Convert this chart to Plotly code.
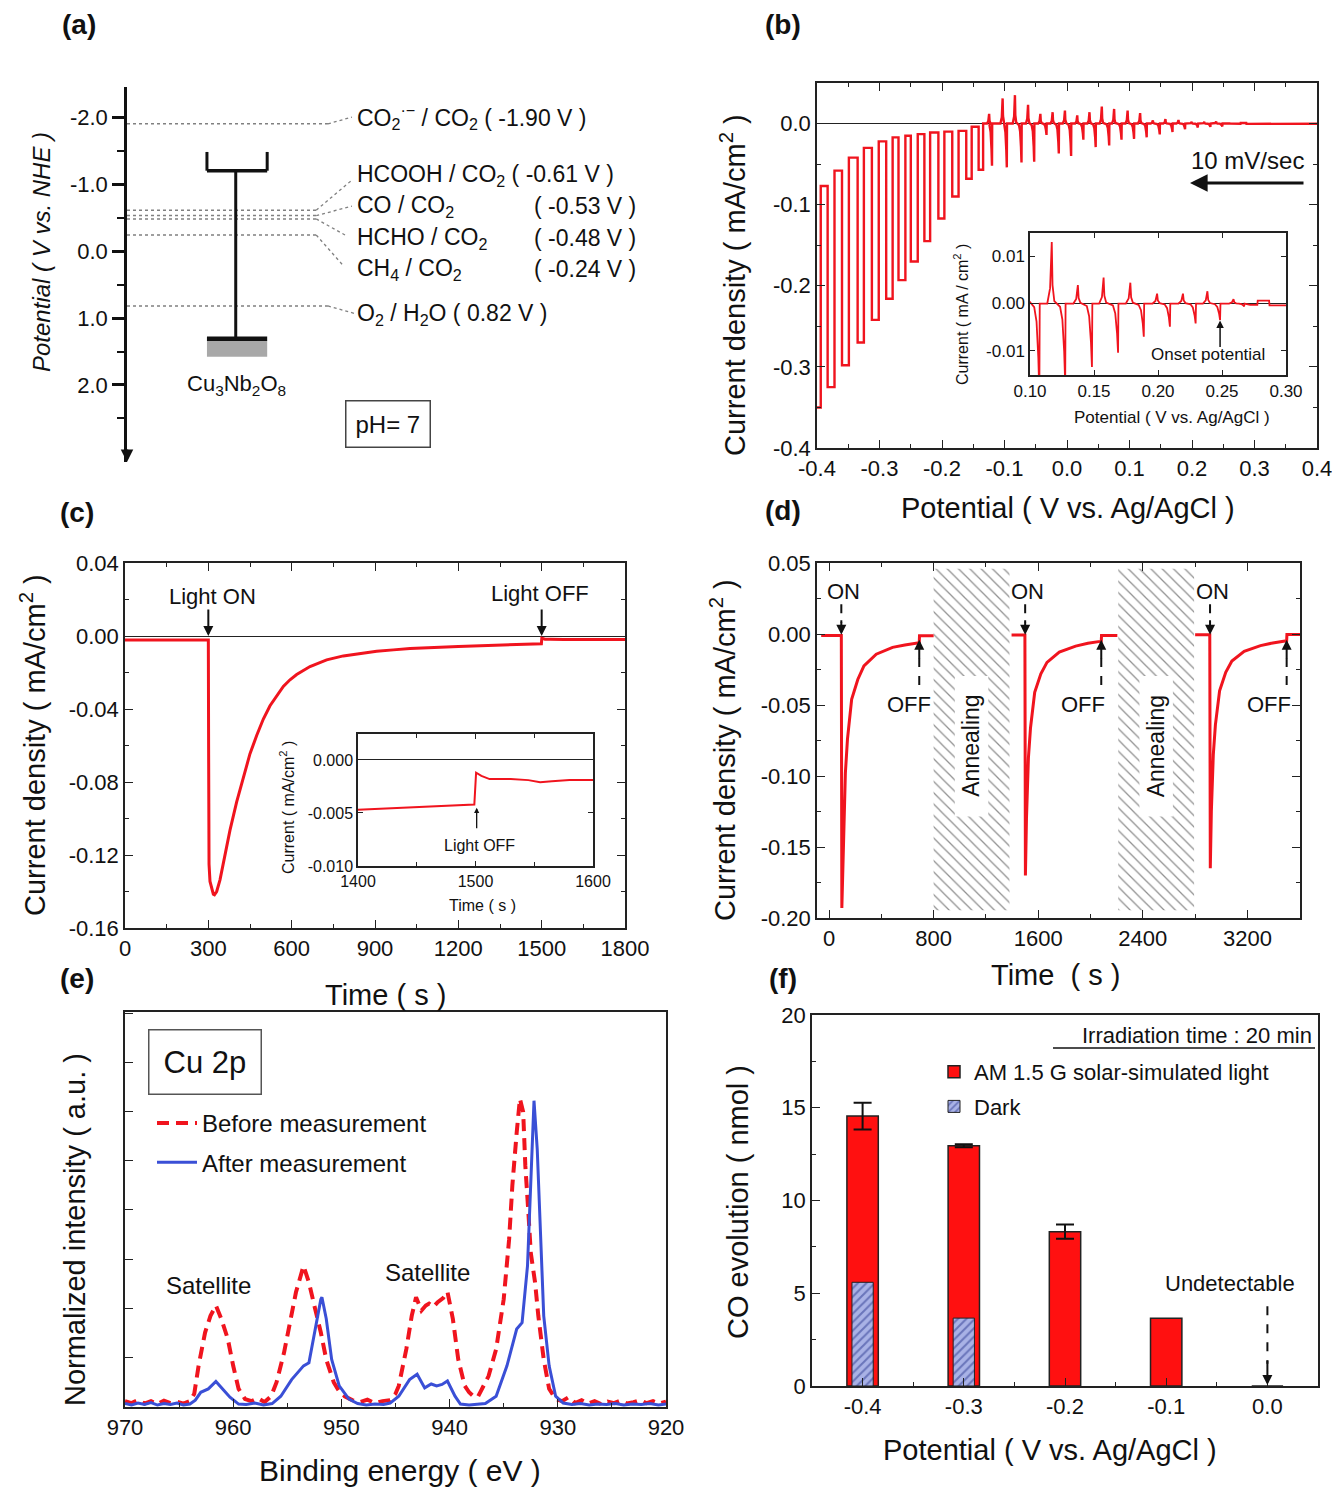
import plotly.graph_objects as go

# reference canvas size; the page body adds an 8 px margin, so the figure is drawn slightly smaller
W, H = 1340, 1495
OFF = 8
WF, HF = W - 2 * OFF, H - 2 * OFF
FONT = "Liberation Sans, Arial, sans-serif"
RED = "#f0141e"
BLUE = "#3a4fd6"
INK = "#111111"

# ---------------- (a) band diagram data ----------------
redox_names = ["CO<sub>2</sub><sup>·−</sup> / CO<sub>2</sub>", "HCOOH / CO<sub>2</sub>", "CO / CO<sub>2</sub>",
               "HCHO / CO<sub>2</sub>", "CH<sub>4</sub> / CO<sub>2</sub>", "O<sub>2</sub> / H<sub>2</sub>O"]
redox_pot = [-1.90, -0.61, -0.53, -0.48, -0.24, 0.82]
cb_edge = -1.20   # conduction band (V vs NHE)
vb_edge = 1.31    # valence band (V vs NHE)
a_ticks = [-2.0, -1.0, 0.0, 1.0, 2.0]

# ---------------- tick values ----------------
b_xtick = [-0.4, -0.3, -0.2, -0.1, 0.0, 0.1, 0.2, 0.3, 0.4]
b_ytick = [0.0, -0.1, -0.2, -0.3, -0.4]
bi_xtick = [0.10, 0.15, 0.20, 0.25, 0.30]
bi_ytick = [0.01, 0.00, -0.01]
c_xtick = [0, 300, 600, 900, 1200, 1500, 1800]
c_ytick = [0.04, 0.00, -0.04, -0.08, -0.12, -0.16]
ci_xtick = [1400, 1500, 1600]
ci_ytick = [0.000, -0.005, -0.010]
d_xtick = [0, 800, 1600, 2400, 3200]
d_ytick = [0.05, 0.00, -0.05, -0.10, -0.15, -0.20]
e_xtick = [970, 960, 950, 940, 930, 920]
f_ytick = [0, 5, 10, 15, 20]

# ---------------- (b) chopped LSV data ----------------
b_pulse_left = [-0.400, -0.3830, -0.3600, -0.3350, -0.3122, -0.2893, -0.2696, -0.2499, -0.2282, -0.2058,
                -0.1836, -0.1612, -0.1414]
b_pulse_right = [-0.394, -0.3720, -0.3490, -0.3250, -0.3012, -0.2790, -0.2586, -0.2388, -0.2190, -0.1962,
                 -0.1735, -0.1525, -0.1342]
b_light = [-0.350, -0.325, -0.298, -0.270, -0.242, -0.216, -0.193, -0.170, -0.145, -0.117, -0.090, -0.068, -0.057]
b_dark = [-0.077, -0.058, -0.042, -0.030, -0.022, -0.017, -0.015, -0.013, -0.011, -0.010, -0.009, -0.004, 0.000]
b_spike_x = [-0.1246, -0.1200, -0.1030, -0.0963, -0.0833, -0.0728, -0.0623, -0.0525, -0.0426, -0.0328,
             -0.0230, -0.0131, -0.0033, 0.0066, 0.0164, 0.0262, 0.0360, 0.0459, 0.0557, 0.0675,
             0.0754, 0.0872, 0.0970, 0.1073, 0.1170, 0.1275, 0.1374, 0.1484, 0.1575, 0.1688,
             0.1784, 0.1889, 0.1993, 0.2093, 0.2195, 0.2294, 0.2386, 0.2485, 0.2590, 0.2673]
b_spike_h = [0.012, -0.052, 0.031, -0.054, 0.035, -0.048, 0.023, -0.047, 0.012, -0.014,
             0.014, -0.037, 0.016, -0.040, 0.010, -0.020, 0.014, -0.029, 0.021, -0.027,
             0.018, -0.020, 0.016, -0.019, 0.013, -0.017, 0.0039, -0.0134, 0.0055, -0.0104,
             0.0044, -0.0070, 0.0021, -0.0049, 0.0021, -0.0042, 0.0026, -0.0035, 0.0009, -0.0006]
b_tail_x = [0.2720, 0.2776, 0.2779, 0.2868, 0.2871, 0.3000, 0.3500, 0.4000]
b_tail_j = [-0.0003, -0.0003, 0.0006, 0.0006, -0.0004, -0.0004, -0.0002, -0.0002]

# ---------------- (c) photocurrent transient ----------------
c_t = [0, 100, 200, 300, 301, 302.5, 306, 312, 318, 322, 330, 342, 354, 366, 378, 402, 426, 450, 474, 498,
       522, 546, 570, 594, 618, 666, 726, 786, 846, 906, 966, 1026, 1200, 1400, 1440, 1470, 1499, 1500.5,
       1505, 1512, 1530, 1545, 1555, 1565, 1580, 1600, 1700, 1800]
c_j = [-0.0022, -0.0022, -0.0022, -0.0022, -0.060, -0.125, -0.1345, -0.139, -0.1415, -0.1418, -0.140,
       -0.1336, -0.1245, -0.1155, -0.1064, -0.0909, -0.0773, -0.0645, -0.0545, -0.0455, -0.0382, -0.0327,
       -0.0276, -0.0240, -0.0211, -0.0167, -0.0131, -0.0109, -0.0095, -0.0084, -0.0076, -0.0069, -0.0057,
       -0.0047, -0.0045, -0.0044, -0.0042, -0.0012, -0.0015, -0.0018, -0.0018, -0.0019, -0.0021, -0.0020,
       -0.0019, -0.0019, -0.0019, -0.0019]

# ---------------- (d) repeated cycles ----------------
d_t = [-60, 94, 98, 110, 125, 141, 173, 220, 267, 361, 486, 580, 674, 690, 692, 800, None,
       1396, 1498, 1502, 1510, 1525, 1541, 1573, 1620, 1667, 1761, 1886, 1980, 2074, 2082, 2084, 2205, None,
       2800, 2912, 2916, 2924, 2939, 2955, 2987, 3034, 3081, 3175, 3300, 3394, 3488, 3500, 3502, 3602]
d_j = [-0.001, -0.001, -0.193, -0.145, -0.098, -0.074, -0.046, -0.032, -0.0224, -0.0142, -0.0094, -0.0078,
       -0.0064, -0.0062, -0.0012, -0.0012, None,
       -0.0007, -0.0007, -0.170, -0.130, -0.087, -0.066, -0.041, -0.028, -0.020, -0.0128, -0.0085, -0.0065,
       -0.0052, -0.0050, -0.0010, -0.0010, None,
       -0.0005, -0.0005, -0.165, -0.125, -0.085, -0.064, -0.040, -0.027, -0.019, -0.0122, -0.0082, -0.0063,
       -0.0050, -0.0047, -0.0003, -0.0003]
d_on = [94, 1500, 2914]
d_on_label = [110, 1515, 2933]
d_off = [690, 2082, 3500]
d_off_label = [612, 1939, 3363]
anneal_start = [800, 2212]
anneal_end = [1380, 2792]

# ---------------- (e) XPS Cu 2p ----------------
bef_ev = [970.0, 969.4, 968.8, 968.2, 967.6, 967.0, 966.4, 965.8, 965.2, 964.6,
          964.0, 963.6, 963.2, 962.6, 962.1, 961.6, 961.1, 960.5, 960.0, 959.5,
          958.9, 958.3, 957.7, 957.1, 956.5, 956.0, 955.3, 954.8, 954.2, 953.5,
          953.0, 952.5, 951.9, 951.4, 950.7, 950.2, 949.7, 949.0, 948.3, 947.6,
          946.9, 946.2, 945.5, 945.0, 944.7, 944.0, 943.5, 943.1, 942.6, 942.2,
          941.9, 941.5, 941.1, 940.6, 940.2, 939.7, 939.2, 938.6, 938.2, 937.8,
          937.4, 937.1, 936.4, 935.7, 935.0, 934.5, 934.2, 933.8, 933.5, 933.2,
          933.0, 932.7, 932.5, 932.1, 931.8, 931.3, 930.8, 930.2, 929.6, 929.0,
          928.4, 927.8, 927.2, 926.6, 926.0, 925.4, 924.8, 924.2, 923.6, 923.0,
          922.4, 921.8, 921.2, 920.6, 920.0]
bef_int = [0.10, 0.06, 0.12, 0.05, 0.10, 0.04, 0.11, 0.06, 0.09, 0.05,
           0.10, 0.25, 0.82, 1.50, 1.84, 2.05, 1.78, 1.37, 0.82, 0.35,
           0.14, 0.10, 0.16, 0.08, 0.20, 0.48, 1.09, 1.64, 2.32, 2.86,
           2.52, 2.05, 1.50, 0.95, 0.48, 0.30, 0.20, 0.12, 0.08, 0.13,
           0.06, 0.10, 0.12, 0.25, 0.41, 1.16, 1.84, 2.22, 1.95, 2.05,
           2.09, 2.02, 2.12, 2.20, 2.33, 1.78, 0.95, 0.41, 0.28, 0.20,
           0.18, 0.31, 0.61, 1.16, 2.18, 3.40, 4.50, 5.58, 6.27, 6.00,
           4.90, 3.88, 3.13, 2.52, 1.84, 0.95, 0.35, 0.14, 0.10, 0.18,
           0.06, 0.12, 0.05, 0.10, 0.04, 0.09, 0.06, 0.11, 0.05, 0.08,
           0.12, 0.06, 0.10, 0.05, 0.09]
aft_ev = [970.0, 969.4, 968.8, 968.2, 967.6, 967.0, 966.4, 965.8, 965.2, 964.6,
          964.0, 963.5, 963.0, 962.3, 961.6, 961.0, 960.3, 959.5, 958.8, 958.0,
          957.2, 956.4, 955.6, 954.6, 953.5, 953.0, 952.5, 951.9, 951.8, 951.4,
          950.9, 950.2, 949.3, 948.5, 947.7, 946.9, 946.1, 945.5, 944.7, 943.7,
          943.0, 942.3, 941.7, 941.2, 940.7, 940.2, 939.5, 939.0, 938.2, 937.4,
          936.7, 935.7, 934.7, 933.8, 933.3, 932.8, 932.4, 932.2, 931.9, 931.6,
          931.3, 930.8, 930.2, 929.5, 928.7, 927.9, 927.1, 926.3, 925.5, 924.7,
          923.9, 923.1, 922.3, 921.5, 920.7, 920.0]
aft_int = [0.05, 0.02, 0.06, 0.03, 0.07, 0.02, 0.05, 0.03, 0.06, 0.02,
           0.04, 0.12, 0.28, 0.35, 0.50, 0.35, 0.18, 0.04, 0.03, 0.06,
           0.02, 0.05, 0.20, 0.54, 0.82, 0.88, 1.50, 2.18, 2.22, 1.78,
           0.95, 0.41, 0.14, 0.05, 0.02, 0.04, 0.03, 0.06, 0.20, 0.54,
           0.65, 0.37, 0.45, 0.41, 0.44, 0.51, 0.20, 0.04, 0.02, 0.03,
           0.05, 0.20, 0.82, 1.57, 1.70, 2.86, 4.90, 6.23, 5.24, 3.54,
           1.84, 0.82, 0.20, 0.06, 0.03, 0.05, 0.02, 0.04, 0.03, 0.05,
           0.02, 0.04, 0.03, 0.05, 0.02, 0.04]

# ---------------- (f) CO evolution ----------------
f_pot = [-0.4, -0.3, -0.2, -0.1, 0.0]
f_pot_labels = ["-0.4", "-0.3", "-0.2", "-0.1", "0.0"]
co_light = [14.55, 12.95, 8.32, 3.65, 0.0]
err_pot = [-0.4, -0.3, -0.2]
co_err_val = [14.55, 12.95, 8.32]
co_err = [0.72, 0.08, 0.38]
dark_pot = [-0.4, -0.3]
co_dark = [5.59, 3.66]


# ---------------- helpers (reference pixel -> paper fraction) ----------------
def PX(x):
    return (x - OFF) / WF


def PY(y):
    return 1 - (y - OFF) / HF


def XD(a, b):
    return [PX(a), PX(b)]


def YD(top, bottom):
    return [PY(bottom), PY(top)]


def T(text, x, y, size=22, xanchor="center", yanchor="middle", angle=0, **kw):
    return dict(text=text, x=PX(x), y=PY(y), xref="paper", yref="paper", showarrow=False,
                font=dict(size=size, family=FONT, color=INK), xanchor=xanchor, yanchor=yanchor,
                textangle=angle, **kw)


def labels(vals, nd):
    return ["0" + ("." + "0" * nd if nd else "") if v == 0 else f"{v:.{nd}f}" for v in vals]


def mids(vals):
    s = sorted(vals)
    return [(a + b) / 2 for a, b in zip(s[:-1], s[1:])]


def axis(dom, rng, anchor, tv=None, nd=None, minor=None, size=22, **kw):
    d = dict(domain=dom, range=rng, anchor=anchor, showline=True, linecolor="#222", linewidth=1.5,
             mirror="ticks", ticks="inside", ticklen=8, tickwidth=1.3, tickcolor="#222", showgrid=False,
             zeroline=False, tickfont=dict(size=size, family=FONT, color=INK), ticklabeloverflow="allow")
    if tv is not None:
        d["tickmode"] = "array"
        d["tickvals"] = tv
        d["ticktext"] = labels(tv, nd) if nd is not None else [str(v) for v in tv]
    if minor is not None:
        d["minor"] = dict(tickmode="array", tickvals=minor, ticks="inside", ticklen=4, tickwidth=1,
                          tickcolor="#222", showgrid=False)
    d.update(kw)
    return d


ZL = dict(zeroline=True, zerolinecolor="#222", zerolinewidth=1.3)


def chop_trace():
    xs, ys = [], []
    for i in range(len(b_pulse_left)):
        if i == 0:
            xs.append(b_pulse_left[i]); ys.append(b_light[i])
        else:
            xs += [b_pulse_left[i], b_pulse_left[i]]; ys += [b_dark[i - 1], b_light[i]]
        xs += [b_pulse_right[i], b_pulse_right[i]]; ys += [b_light[i], b_dark[i]]
    for x, h in zip(b_spike_x, b_spike_h):
        if h < 0:
            xs += [x - 0.004, x - 0.0022, x - 0.0008, x, x + 0.0003]
            ys += [0.04 * h, 0.2 * h, 0.6 * h, h, 0.0]
        else:
            xs += [x - 0.0035, x - 0.0013, x - 0.0004, x, x + 0.0006, x + 0.002]
            ys += [0.0, 0.25 * h, 0.7 * h, h, 0.3 * h, 0.04 * h]
    xs += b_tail_x; ys += b_tail_j
    return xs, ys


fig = go.Figure()

# (b) main + inset
bx, by = chop_trace()
fig.add_trace(go.Scatter(x=bx, y=by, mode="lines", line=dict(color=RED, width=2.4), xaxis="x2", yaxis="y2",
                         showlegend=False))
fig.add_trace(go.Scatter(x=bx, y=by, mode="lines", line=dict(color=RED, width=1.8), xaxis="x3", yaxis="y3",
                         showlegend=False))

# (c) main + inset
fig.add_trace(go.Scatter(x=c_t, y=c_j, mode="lines", line=dict(color=RED, width=3), xaxis="x4", yaxis="y4",
                         showlegend=False))
fig.add_trace(go.Scatter(x=c_t, y=c_j, mode="lines", line=dict(color=RED, width=2), xaxis="x5", yaxis="y5",
                         showlegend=False))

# (d) annealing hatch + curves
fig.add_trace(go.Bar(x=[(s + e) / 2 for s, e in zip(anneal_start, anneal_end)],
                     width=[e - s for s, e in zip(anneal_start, anneal_end)],
                     base=[-0.1946] * 2, y=[0.2406] * 2, xaxis="x6", yaxis="y6", showlegend=False,
                     marker=dict(color="white", line=dict(width=0),
                                 pattern=dict(shape="\\", fgcolor="#222222", bgcolor="white", size=8,
                                              solidity=0.16))))
fig.add_trace(go.Scatter(x=d_t, y=d_j, mode="lines", line=dict(color=RED, width=3), xaxis="x6", yaxis="y6",
                         showlegend=False, connectgaps=False))

# (e) XPS
fig.add_trace(go.Scatter(x=bef_ev, y=bef_int, mode="lines", name="Before measurement",
                         line=dict(color=RED, width=4, dash="12px,7px"), xaxis="x7", yaxis="y7",
                         legend="legend", legendgroup="b"))
fig.add_trace(go.Scatter(x=aft_ev, y=aft_int, mode="lines", name="After measurement",
                         line=dict(color=BLUE, width=3), xaxis="x7", yaxis="y7",
                         legend="legend", legendgroup="a"))

# (f) bars
fig.add_trace(go.Bar(x=f_pot, y=co_light, width=0.031, name="AM 1.5 G solar-simulated light",
                     marker=dict(color="#ff1010", line=dict(color="#222", width=1.5)),
                     xaxis="x8", yaxis="y8", legend="legend2", legendgroup="l"))
fig.add_trace(go.Bar(x=dark_pot, y=co_dark, width=0.021, name="Dark",
                     marker=dict(color="#8f9ad8", line=dict(color="#222", width=1),
                                 pattern=dict(shape="/", fgcolor="#2b3890", bgcolor="#a9b2e6", size=6,
                                              solidity=0.35)),
                     xaxis="x8", yaxis="y8", legend="legend2", legendgroup="d"))
fig.add_trace(go.Scatter(x=err_pot, y=co_err_val, mode="markers", marker=dict(size=1, color="rgba(0,0,0,0)"),
                         error_y=dict(type="data", array=co_err, color="#111", thickness=2, width=9),
                         xaxis="x8", yaxis="y8", showlegend=False))

# ---------------- shapes ----------------
shapes = []
line_end = [37.7, 35.5, 35.5, 35.5, 35.5, 37.7]
conn_x = [42.2, 42.2, 42.2, 40.9, 40.5, 42.6]
conn_v = [-2.0, -1.06, -0.67, -0.24, 0.21, 0.93]
for i, v in enumerate(redox_pot):
    shapes.append(dict(type="line", xref="x", yref="y", x0=0, x1=line_end[i], y0=v, y1=v,
                       line=dict(color="#808080", width=1.5, dash="dot")))
    shapes.append(dict(type="line", xref="x", yref="y", x0=line_end[i], x1=conn_x[i], y0=v, y1=conn_v[i],
                       line=dict(color="#808080", width=1.3, dash="dot")))
band_x, bl, br = 20.4, 15.0, 26.3
shapes += [
    dict(type="line", xref="x", yref="y", x0=band_x, x1=band_x, y0=cb_edge, y1=vb_edge, line=dict(color="#111", width=3)),
    dict(type="line", xref="x", yref="y", x0=bl, x1=br, y0=cb_edge, y1=cb_edge, line=dict(color="#111", width=3.5)),
    dict(type="line", xref="x", yref="y", x0=bl, x1=bl, y0=cb_edge, y1=cb_edge - 0.28, line=dict(color="#111", width=3)),
    dict(type="line", xref="x", yref="y", x0=br, x1=br, y0=cb_edge, y1=cb_edge - 0.28, line=dict(color="#111", width=3)),
    dict(type="rect", xref="x", yref="y", x0=bl, x1=br, y0=vb_edge + 0.03, y1=vb_edge + 0.27,
         fillcolor="#a8a8a8", line=dict(width=0)),
    dict(type="line", xref="x", yref="y", x0=bl, x1=br, y0=vb_edge, y1=vb_edge, line=dict(color="#111", width=4.5)),
]
for s, e in zip(anneal_start, anneal_end):
    mid = (s + e) / 2
    shapes.append(dict(type="rect", xref="x6", yref="y6", x0=mid - 128, x1=mid + 128, y0=-0.1285, y1=-0.0295,
                       fillcolor="white", line=dict(width=0), layer="above"))
for t in d_on:
    shapes.append(dict(type="line", xref="x6", yref="y6", x0=t, x1=t, y0=0.021, y1=0.008,
                       line=dict(color="#111", width=2, dash="dash")))
for t in d_off:
    shapes.append(dict(type="line", xref="x6", yref="y6", x0=t, x1=t, y0=-0.036, y1=-0.014,
                       line=dict(color="#111", width=2, dash="dash")))
shapes.append(dict(type="line", xref="x8", yref="y8", x0=0.0, x1=0.0, y0=4.3, y1=1.2,
                   line=dict(color="#111", width=2, dash="dash")))
shapes.append(dict(type="line", xref="paper", yref="paper", x0=PX(1053), x1=PX(1315), y0=PY(1048),
                   y1=PY(1048), line=dict(color="#111", width=1.5)))

# ---------------- annotations ----------------
ann = []
for lab, x, y in [("(a)", 79, 25), ("(b)", 783, 25), ("(c)", 77, 512), ("(d)", 783, 510), ("(e)", 77, 978),
                  ("(f)", 783, 978)]:
    ann.append(T("<b>" + lab + "</b>", x, y, size=28))

label_v = [-2.0, -1.134, -0.672, -0.194, 0.269, 0.94]
for i, (nm, v) in enumerate(zip(redox_names, redox_pot)):
    ann.append(dict(text=nm + ("" if i in (2, 3, 4) else f" ( {v:.2f} V )"), x=42.8, y=label_v[i], xref="x",
                    yref="y", showarrow=False, xanchor="left", yanchor="middle",
                    font=dict(size=23, family=FONT, color=INK)))
    if i in (2, 3, 4):
        ann.append(dict(text=f"( {v:.2f} V )", x=76.0, y=label_v[i], xref="x", yref="y", showarrow=False,
                        xanchor="left", yanchor="middle", font=dict(size=23, family=FONT, color=INK)))
ann.append(T("Cu<sub>3</sub>Nb<sub>2</sub>O<sub>8</sub>", 236, 385, size=22))
ann.append(T("pH= 7", 388, 424, size=24, bordercolor="#444", borderwidth=1.5, borderpad=9))
ann.append(T("<i>Potential ( V vs. NHE )</i>", 42, 252, size=24, angle=-90))
ann.append(dict(x=0, y=3.15, xref="x", yref="y", ax=0, ay=-14, showarrow=True, arrowhead=2, arrowsize=1,
                arrowwidth=2.5, arrowcolor="#111", text=""))

# (b)
ann.append(T("Current density ( mA/cm<sup>2</sup> )", 733, 285, size=29, angle=-90))
ann.append(T("Potential ( V vs. Ag/AgCl )", 1068, 508, size=29))
ann.append(T("10 mV/sec", 1247, 160, size=24))
ann.append(dict(x=PX(1190), y=PY(183), xref="paper", yref="paper", ax=115, ay=0, showarrow=True,
                arrowhead=2, arrowsize=1.1, arrowwidth=3.2, arrowcolor="#111", text=""))
ann.append(T("Current ( mA / cm<sup>2</sup> )", 961, 315, size=16, angle=-90))
ann.append(T("Potential ( V vs. Ag/AgCl )", 1172, 417, size=17))
ann.append(T("Onset potential", 1208, 355, size=17))
ann.append(dict(x=0.2485, y=-0.0036, xref="x3", yref="y3", ax=0, ay=28, showarrow=True, arrowhead=2,
                arrowsize=1, arrowwidth=1.5, arrowcolor="#111", text=""))

# (c)
ann.append(T("Current density ( mA/cm<sup>2</sup> )", 33, 745, size=29, angle=-90))
ann.append(T("Time ( s )", 385, 995, size=29))
ann.append(T("Light ON", 212, 596, size=22))
ann.append(dict(x=300, y=0.0, xref="x4", yref="y4", ax=0, ay=-28, showarrow=True, arrowhead=2, arrowsize=1,
                arrowwidth=2, arrowcolor="#111", text=""))
ann.append(T("Light OFF", 540, 593, size=22))
ann.append(dict(x=1500, y=0.0, xref="x4", yref="y4", ax=0, ay=-28, showarrow=True, arrowhead=2, arrowsize=1,
                arrowwidth=2, arrowcolor="#111", text=""))
ann.append(T("Current ( mA/cm<sup>2</sup> )", 287, 808, size=16, angle=-90))
ann.append(T("Time ( s )", 482, 905, size=16))
ann.append(T("Light OFF", 480, 845, size=16))
ann.append(dict(x=1501, y=-0.0045, xref="x5", yref="y5", ax=0, ay=22, showarrow=True, arrowhead=2, arrowsize=0.8,
                arrowwidth=1.3, arrowcolor="#111", text=""))

# (d)
ann.append(T("Current density ( mA/cm<sup>2</sup> )", 723, 750, size=29, angle=-90))
ann.append(T("Time  ( s )", 1055, 975, size=29))
for t, lt in zip(d_on, d_on_label):
    ann.append(dict(text="ON", x=lt, y=0.030, xref="x6", yref="y6", showarrow=False,
                    font=dict(size=22, family=FONT, color=INK)))
    ann.append(dict(x=t, y=-0.0005, xref="x6", yref="y6", ax=0, ay=-16, showarrow=True, arrowhead=2,
                    arrowsize=1, arrowwidth=2, arrowcolor="#111", text=""))
for t, lt in zip(d_off, d_off_label):
    ann.append(dict(text="OFF", x=lt, y=-0.0495, xref="x6", yref="y6", showarrow=False,
                    font=dict(size=22, family=FONT, color=INK)))
    ann.append(dict(x=t, y=-0.004, xref="x6", yref="y6", ax=0, ay=20, showarrow=True, arrowhead=2,
                    arrowsize=1, arrowwidth=2, arrowcolor="#111", text=""))
for s, e in zip(anneal_start, anneal_end):
    ann.append(dict(text="Annealing", x=(s + e) / 2, y=-0.079, xref="x6", yref="y6", showarrow=False,
                    textangle=-90, font=dict(size=23, family=FONT, color=INK)))

# (e)
ann.append(T("Normalized intensity ( a.u. )", 75, 1230, size=29, angle=-90))
ann.append(T("Binding energy ( eV )", 400, 1470, size=30))
ann.append(T("Cu 2p", 205, 1062, size=31, bordercolor="#555", borderwidth=1.5, borderpad=14))
ann.append(T("Satellite", 208, 1285, size=24))
ann.append(T("Satellite", 427, 1272, size=24))

# (f)
ann.append(T("CO evolution ( nmol )", 738, 1202, size=29, angle=-90))
ann.append(T("Potential ( V vs. Ag/AgCl )", 1050, 1450, size=29))
ann.append(T("Irradiation time : 20 min", 1314, 1035, size=22, xanchor="right"))
ann.append(T("Undetectable", 1230, 1283, size=22))
ann.append(dict(x=0.0, y=0.05, xref="x8", yref="y8", ax=0, ay=-26, showarrow=True, arrowhead=2, arrowsize=1,
                arrowwidth=2, arrowcolor="#111", text=""))

fig.update_layout(
    width=WF, height=HF, margin=dict(l=0, r=0, t=0, b=0, autoexpand=False), paper_bgcolor="white",
    plot_bgcolor="white", barmode="overlay", font=dict(family=FONT, size=22, color=INK), showlegend=True,
    shapes=shapes, annotations=ann,
    legend=dict(x=PX(152), y=PY(1101), xanchor="left", yanchor="top", bgcolor="rgba(0,0,0,0)",
                font=dict(size=24, family=FONT, color=INK), tracegroupgap=5, itemwidth=40),
    legend2=dict(x=PX(934), y=PY(1051), xanchor="left", yanchor="top", bgcolor="rgba(0,0,0,0)",
                 font=dict(size=22, family=FONT, color=INK), tracegroupgap=3),
    # (a)
    xaxis=dict(domain=XD(127, 660), range=[0, 100], anchor="y", visible=False),
    yaxis=dict(domain=YD(87, 462), range=[3.15, -2.45], anchor="x", showline=True, linecolor="#111",
               linewidth=2.5, ticks="outside", ticklen=12, tickwidth=2.5, tickcolor="#111", showgrid=False,
               zeroline=False, tickmode="array", tickvals=a_ticks, ticktext=labels(a_ticks, 1),
               tickfont=dict(size=22, family=FONT, color=INK),
               minor=dict(tickmode="array", tickvals=[-1.5, -0.5, 0.5, 1.5, 2.5], ticks="outside", ticklen=7,
                          tickwidth=2, tickcolor="#111")),
    # (b)
    xaxis2=axis(XD(817, 1317), [-0.4, 0.4], "y2", b_xtick, 1, mids(b_xtick)),
    yaxis2=axis(YD(83, 448), [-0.4, 0.05], "x2", b_ytick, 1, mids(b_ytick), **ZL),
    xaxis3=axis(XD(1030, 1286), [0.1, 0.3], "y3", bi_xtick, 2, size=17, ticklen=5),
    yaxis3=axis(YD(233, 375), [-0.0151, 0.0149], "x3", bi_ytick, 2, size=17, ticklen=5, **ZL),
    # (c)
    xaxis4=axis(XD(125, 625), [0, 1800], "y4", c_xtick, 0, mids(c_xtick)),
    yaxis4=axis(YD(563, 928), [-0.16, 0.04], "x4", c_ytick, 2, mids(c_ytick), **ZL),
    xaxis5=axis(XD(358, 593), [1400, 1600], "y5", ci_xtick, 0, mids(ci_xtick), size=16, ticklen=5),
    yaxis5=axis(YD(734, 866), [-0.010, 0.00245], "x5", ci_ytick, 3, size=16, ticklen=5, **ZL),
    # (d)
    xaxis6=axis(XD(817, 1300), [-92, 3602], "y6", d_xtick, 0, mids(d_xtick)),
    yaxis6=axis(YD(563, 918), [-0.2, 0.05], "x6", d_ytick, 2, mids(d_ytick)),
    # (e)
    xaxis7=axis(XD(125, 666), [970, 920], "y7", e_xtick, 0, mids(e_xtick), mirror=True),
    yaxis7=axis(YD(1012, 1407), [-0.02, 8.04], "x7", [1, 2, 3, 4, 5, 6, 7, 8], 0, showticklabels=False,
                mirror=True),
    # (f)
    xaxis8=axis(XD(812, 1318), [-0.45, 0.05], "y8", None, None, [-0.35, -0.25, -0.15, -0.05],
                tickmode="array", tickvals=f_pot, ticktext=f_pot_labels, mirror=True),
    yaxis8=axis(YD(1015, 1386), [0, 20], "x8", f_ytick, 0, mids(f_ytick), mirror=True),
)

fig.write_html("out.html")
